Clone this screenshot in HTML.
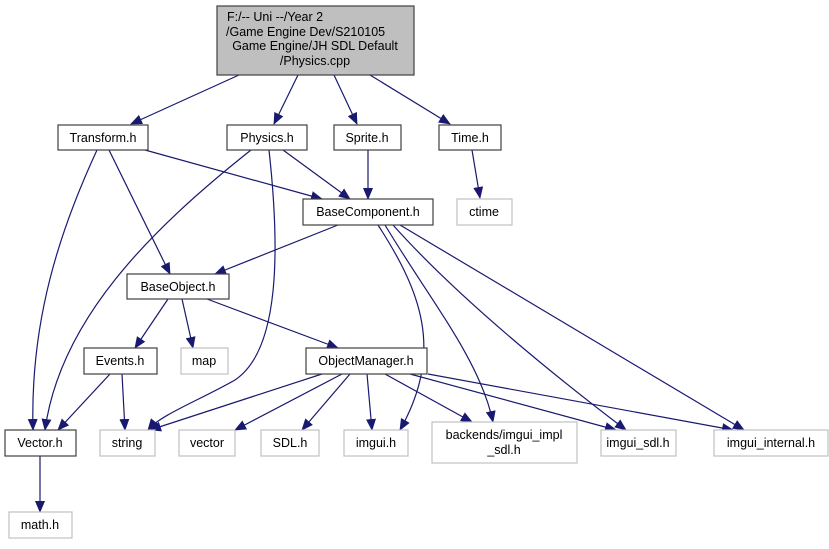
<!DOCTYPE html>
<html><head><meta charset="utf-8"><style>
html,body{margin:0;padding:0;background:#fff;}
svg text{font-family:"Liberation Sans",Arial,sans-serif;font-size:12.5px;}
</style></head><body>
<svg width="829" height="544" viewBox="0 0 829 544" xmlns="http://www.w3.org/2000/svg">
<defs><marker id="a" markerWidth="12" markerHeight="10" refX="11" refY="5" orient="auto" markerUnits="userSpaceOnUse"><path d="M0,0 L12,5 L0,10 z" fill="#191970"/></marker></defs>
<g fill="none" stroke="#191970" stroke-width="1.2" marker-end="url(#a)">
<path d="M239,75 L131,124"/>
<path d="M298,75 L274,124"/>
<path d="M334,75 L357,124"/>
<path d="M370,75 L450,124"/>
<path d="M145,150 L322,199"/>
<path d="M109,150 L170,274"/>
<path d="M97,150 C60,230 30,320 33,430"/>
<path d="M283,150 L350,199"/>
<path d="M251,150 C150,230 60,320 45,430"/>
<path d="M269,150 C280,250 280,350 235,380 C200,400 160,415 148,430"/>
<path d="M368,150 L368,199"/>
<path d="M472,150 L480,198"/>
<path d="M338,225 L215,274"/>
<path d="M378,225 C420,290 445,350 400,430"/>
<path d="M385,225 C430,300 480,360 493,422"/>
<path d="M393,225 C460,300 560,380 626,430"/>
<path d="M400,225 L744,430"/>
<path d="M168,299 L135,348"/>
<path d="M182,299 L193,348"/>
<path d="M207,299 L338,348"/>
<path d="M110,374 L58,430"/>
<path d="M122,374 L125,430"/>
<path d="M322,374 L150,430"/>
<path d="M342,374 L235,430"/>
<path d="M350,374 L302,430"/>
<path d="M367,374 L372,430"/>
<path d="M385,374 L472,422"/>
<path d="M410,374 L616,430"/>
<path d="M428,374 L733,430"/>
<path d="M40,456 L40,512"/>
</g>
<g stroke-width="1.2">
<rect x="217" y="6" width="197" height="69" fill="#bfbfbf" stroke="#404040"/>
<g fill="#fff" stroke="#404040">
<rect x="58" y="125" width="90" height="25"/>
<rect x="227" y="125" width="80" height="25"/>
<rect x="334" y="125" width="67" height="25"/>
<rect x="439" y="125" width="62" height="25"/>
<rect x="303" y="199" width="130" height="26"/>
<rect x="127" y="274" width="102" height="25"/>
<rect x="84" y="348" width="73" height="26"/>
<rect x="306" y="348" width="121" height="26"/>
<rect x="5" y="430" width="71" height="26"/>
</g>
<g fill="#fff" stroke="#c0c0c0">
<rect x="457" y="199" width="55" height="26"/>
<rect x="181" y="348" width="47" height="26"/>
<rect x="100" y="430" width="55" height="26"/>
<rect x="179" y="430" width="56" height="26"/>
<rect x="261" y="430" width="58" height="26"/>
<rect x="344" y="430" width="64" height="26"/>
<rect x="432" y="422" width="145" height="41"/>
<rect x="601" y="430" width="75" height="26"/>
<rect x="714" y="430" width="114" height="26"/>
<rect x="9" y="512" width="63" height="26"/>
</g>
</g>
<g fill="#000">
<text x="227" y="21">F:/-- Uni --/Year 2</text>
<text x="226" y="36">/Game Engine Dev/S210105</text>
<text x="315" y="50" text-anchor="middle">Game Engine/JH SDL Default</text>
<text x="315" y="65" text-anchor="middle">/Physics.cpp</text>
<g text-anchor="middle">
<text x="103" y="142">Transform.h</text>
<text x="267" y="142">Physics.h</text>
<text x="367" y="142">Sprite.h</text>
<text x="470" y="142">Time.h</text>
<text x="368" y="216">BaseComponent.h</text>
<text x="484" y="216">ctime</text>
<text x="178" y="291">BaseObject.h</text>
<text x="120" y="365">Events.h</text>
<text x="204" y="365">map</text>
<text x="366" y="365">ObjectManager.h</text>
<text x="40" y="447">Vector.h</text>
<text x="127" y="447">string</text>
<text x="207" y="447">vector</text>
<text x="290" y="447">SDL.h</text>
<text x="376" y="447">imgui.h</text>
<text x="504" y="439">backends/imgui_impl</text>
<text x="504" y="454">_sdl.h</text>
<text x="638" y="447">imgui_sdl.h</text>
<text x="771" y="447">imgui_internal.h</text>
<text x="40" y="529">math.h</text>
</g>
</g>
</svg>
</body></html>
